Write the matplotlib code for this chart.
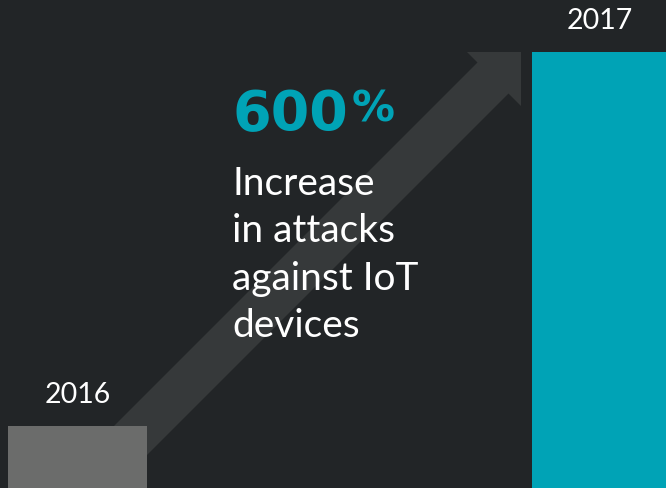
import matplotlib.pyplot as plt
from matplotlib.patches import Polygon
from matplotlib import transforms

# data
years = ["2016", "2017"]
attacks = [1, 7]          # relative volume, 2017 = +600%
headline = "600"
headline_unit = "%"
caption = ["Increase", "in attacks", "against IoT", "devices"]

bg = "#222527"
arrow_col = "#36393a"
bar_cols = ["#6b6c6b", "#00a3b6"]
teal = "#00a3b6"

W, H = 666, 488
fig = plt.figure(figsize=(W / 100, H / 100), dpi=100, facecolor=bg)

# pixel transform (origin top-left) for decoration and text
px = transforms.Affine2D().scale(1 / W, -1 / H).translate(0, 1) + fig.transFigure

ax = fig.add_axes([0, 0, 1, 1])
ax.set_facecolor("none")

# background arrow, under the bars
arrow = Polygon([(10, 530), (477.5, 62.5), (467, 52), (521, 52),
                 (521, 106), (508.5, 93.5), (41, 561)],
                closed=True, transform=px, facecolor=arrow_col,
                edgecolor="none", zorder=1)
ax.add_patch(arrow)

ax.bar([77.5, 600], attacks, width=[139, 136], color=bar_cols, zorder=2)
ax.set_xlim(0, W)
ax.set_ylim(0, attacks[1] * H / 436)
ax.axis("off")

# year labels
for x, y, lab in [(78, 403, years[0]), (600, 29, years[1])]:
    fig.text(x, y, lab, transform=px, ha="center", va="baseline",
             color="white", fontsize=20.5, family="Lato")

fig.text(232, 130, headline, transform=px, ha="left", va="baseline",
         color=teal, fontsize=40, fontweight="bold", family="DejaVu Sans")
fig.text(352, 122, headline_unit, transform=px, ha="left", va="baseline",
         color=teal, fontsize=31, fontweight="bold", family="DejaVu Sans")

for i, line in enumerate(caption):
    fig.text(232, 195 + i * 47.3, line, transform=px, ha="left",
             va="baseline", color="white", fontsize=28, family="Lato")

fig.savefig("out.png", dpi=100, facecolor=bg)
